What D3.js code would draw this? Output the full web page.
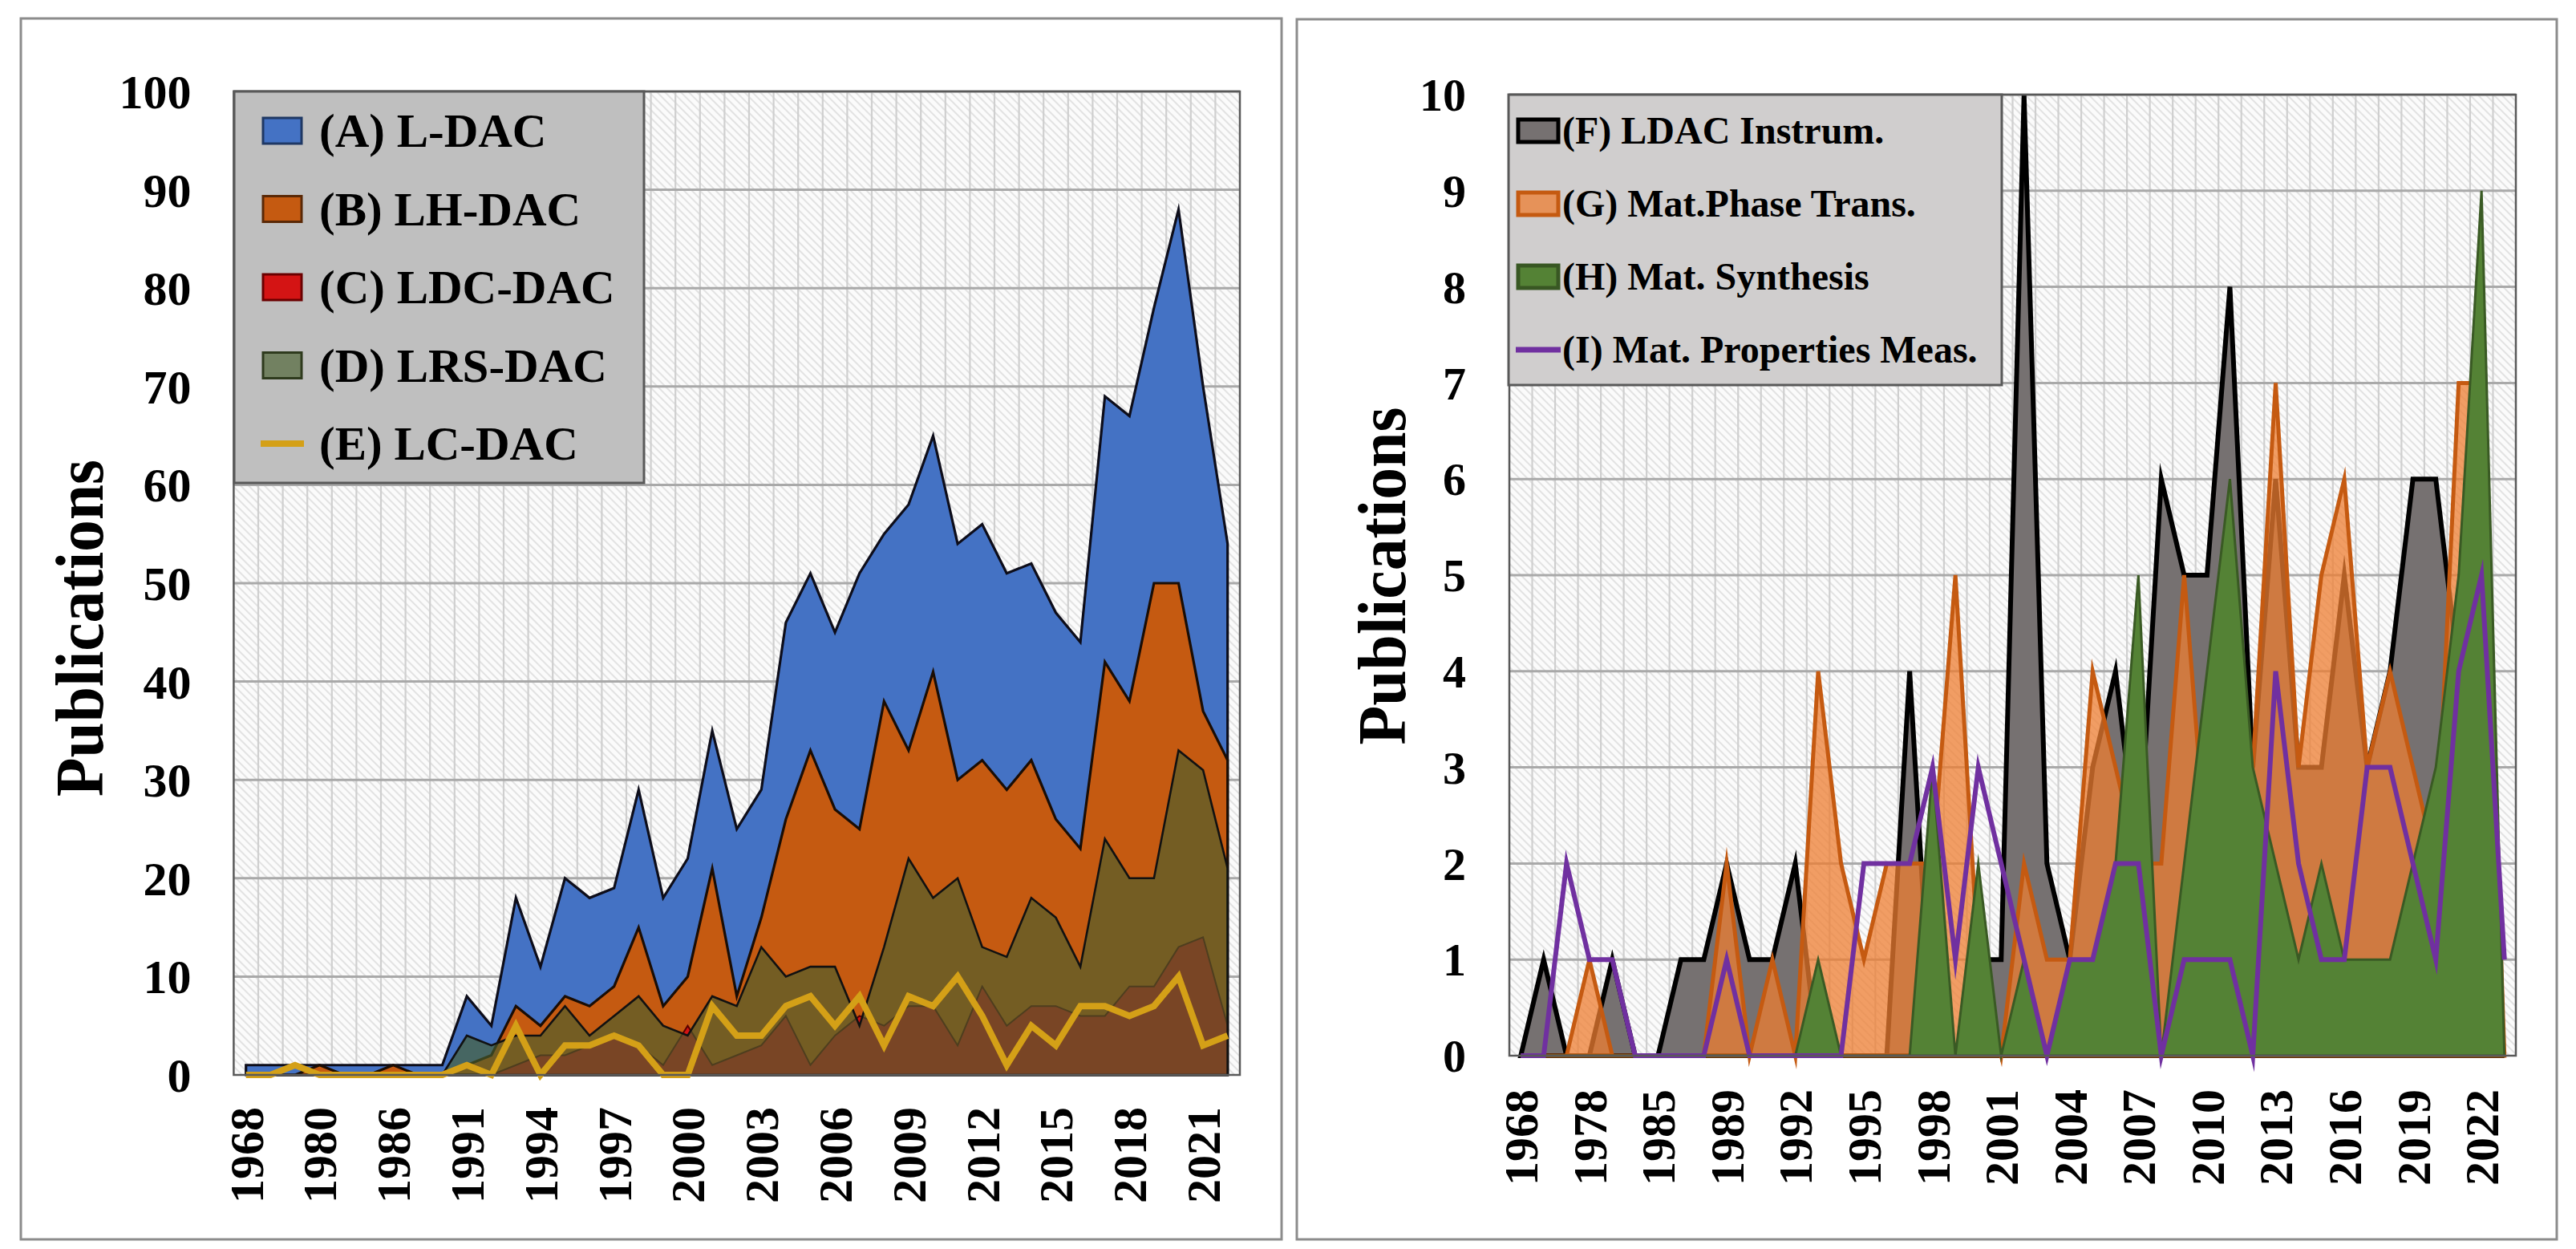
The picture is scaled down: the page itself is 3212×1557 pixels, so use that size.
<!DOCTYPE html>
<html><head><meta charset="utf-8">
<script src="https://cdn.jsdelivr.net/npm/d3@7"></script>
<style>
body{margin:0;background:#fff}
svg{display:block}
text{font-family:"Liberation Serif","Times New Roman",serif;font-weight:bold;fill:#000}
</style>
</head><body>
<svg id="c" width="3212" height="1557"></svg>
<script>
// ---------- LEFT PANEL DATA ----------
const leftYears = ["1968","1972","1976","1980","1982","1984","1986","1988","1990","1991","1992","1993","1994","1995","1996","1997","1998","1999","2000","2001","2002","2003","2004","2005","2006","2007","2008","2009","2010","2011","2012","2013","2014","2015","2016","2017","2018","2019","2020","2021","2022"];
const leftLabels = ["1968","1980","1986","1991","1994","1997","2000","2003","2006","2009","2012","2015","2018","2021"];
const seriesA_LDAC  = [1,1,1,1,1,1,1,1,1, 8,5,18,11,20,18,19,29,18,22,35,25, 29,46,51,45,51,55,58,65,54,56,51,52,47,44,69,67,78,88,70,54];
const seriesB_LHDAC = [0,0,0,1,0,0,1,0,0, 1,2,7,5,8,7,9,15,7,10,21,8, 16,26,33,27,25,38,33,41,30,32,29,32,26,23,42,38,50,50,37,32];
const seriesC_LDCDAC= [0,0,0,0,0,0,0,0,0, 0,0,1,2,2,3,4,3,1,5,1,2, 3,6,1,4,6,5,7,7,3,9,5,7,7,6,6,9,9,13,14,5];
const seriesD_LRSDAC= [0,0,0,0,0,0,0,0,0, 4,3,4,4,7,4,6,8,5,4,8,7, 13,10,11,11,5,13,22,18,20,13,12,18,16,11,24,20,20,33,31,21];
const seriesE_LCDAC = [0,0,1,0,0,0,0,0,0, 1,0,5,0,3,3,4,3,0,0,7,4, 4,7,8,5,8,3,8,7,10,6,1,5,3,7,7,6,7,10,3,4];
const leftYTicks = [0,10,20,30,40,50,60,70,80,90,100];
const leftNames = ["(A) L-DAC","(B) LH-DAC","(C) LDC-DAC","(D) LRS-DAC","(E) LC-DAC"];

// ---------- RIGHT PANEL DATA ----------
const rightYears = ["1968","1972","1975","1978","1980","1982","1985","1986","1987","1989","1990","1991","1992","1993","1994","1995","1996","1997","1998","1999","2000","2001","2002","2003","2004","2005","2006","2007","2008","2009","2010","2011","2012","2013","2014","2015","2016","2017","2018","2019","2020","2021","2022","2023"];
const rightLabels = ["1968","1978","1985","1989","1992","1995","1998","2001","2004","2007","2010","2013","2016","2019","2022"];
const seriesF_Instrum = [0,1,0,0,1,0,0,1,1,2, 1,1,2,0,0,0,0,4,0,0, 1,1,10,2,1,3,4,2,6,5, 5,8,3,6,3,3,5,3,4,6, 6,4,0,0];
const seriesG_PhaseTr = [0,0,0,1,0,0,0,0,0,2, 0,1,0,4,2,1,2,2,2,5, 1,0,2,1,1,4,3,2,2,5, 2,1,3,7,3,5,6,3,4,3, 2,7,7,0];
const seriesH_Synth   = [0,0,0,0,0,0,0,0,0,0, 0,0,0,1,0,0,0,0,3,0, 2,0,1,0,1,1,2,5,0,2, 4,6,3,2,1,2,1,1,1,2, 3,5,9,0];
const seriesI_PropMeas= [0,0,2,1,1,0,0,0,0,1, 0,0,0,0,0,2,2,2,3,1, 3,2,1,0,1,1,2,2,0,1, 1,1,0,4,2,1,1,3,3,2, 1,4,5,1];
const rightYTicks = [0,1,2,3,4,5,6,7,8,9,10];
const rightNames = ["(F) LDAC Instrum.","(G) Mat.Phase Trans.","(H) Mat. Synthesis","(I) Mat. Properties Meas."];

const svg = d3.select("#c");
const defs = svg.append("defs");
const pat = defs.append("pattern").attr("id","hatch").attr("patternUnits","userSpaceOnUse")
  .attr("width",7).attr("height",7).attr("patternTransform","rotate(-45)");
pat.append("rect").attr("width",7).attr("height",7).attr("fill","#fbfbfb");
pat.append("line").attr("x1",1).attr("y1",0).attr("x2",1).attr("y2",7).attr("stroke","#dcdcdc").attr("stroke-width",1.6);

function panel(cfg){
  const g = svg.append("g");
  g.append("rect").attr("x",cfg.box[0]).attr("y",cfg.box[1]).attr("width",cfg.box[2]-cfg.box[0]).attr("height",cfg.box[3]-cfg.box[1])
    .attr("fill","#fff").attr("stroke","#8c8c8c").attr("stroke-width",3);
  const xb = d3.scaleBand().domain(cfg.cats).range([cfg.x0,cfg.x1]);
  const xp = d3.scalePoint().domain(cfg.cats).range([cfg.x0,cfg.x1]).padding(0.5);
  const y = d3.scaleLinear().domain([0,cfg.yMax]).range([cfg.yB,cfg.yT]);
  g.append("rect").attr("x",cfg.x0).attr("y",cfg.yT).attr("width",cfg.x1-cfg.x0).attr("height",cfg.yB-cfg.yT).attr("fill","url(#hatch)");
  g.append("g").selectAll("line").data(cfg.cats.slice(1)).join("line")
    .attr("x1",d=>xb(d)).attr("x2",d=>xb(d)).attr("y1",cfg.yT).attr("y2",cfg.yB)
    .attr("stroke","#cfcfcf").attr("stroke-width",2.2);
  g.append("g").selectAll("line").data(cfg.yTicks.slice(1)).join("line")
    .attr("x1",cfg.x0).attr("x2",cfg.x1).attr("y1",d=>y(d)).attr("y2",d=>y(d))
    .attr("stroke","#a9a9a9").attr("stroke-width",3);
  const area = d3.area().x((d,i)=>xp(cfg.cats[i])).y0(y(0)).y1(d=>y(d));
  const line = d3.line().x((d,i)=>xp(cfg.cats[i])).y(d=>y(d));
  cfg.series.forEach(s=>{
    if(s.type==="area"){
      g.append("path").attr("d",area(s.values)+"Z").attr("fill",s.fill).attr("fill-opacity",s.opacity||1)
        .attr("stroke",s.stroke).attr("stroke-width",s.sw).attr("stroke-linejoin","miter").attr("stroke-miterlimit",10);
    } else {
      g.append("path").attr("d",line(s.values)).attr("fill","none").attr("stroke",s.stroke)
        .attr("stroke-width",s.sw).attr("stroke-linejoin","miter").attr("stroke-miterlimit",10);
    }
  });
  g.append("rect").attr("x",cfg.x0).attr("y",cfg.yT).attr("width",cfg.x1-cfg.x0).attr("height",cfg.yB-cfg.yT)
    .attr("fill","none").attr("stroke","#595959").attr("stroke-width",2.5);
  const ya = g.append("g").attr("transform",`translate(${cfg.x0},0)`)
    .call(d3.axisLeft(y).tickValues(cfg.yTicks).tickSize(0).tickPadding(cfg.yPad).tickFormat(d3.format("d")));
  ya.select(".domain").remove();
  ya.selectAll("text").attr("font-size",cfg.yFont).attr("font-family","Liberation Serif").attr("font-weight","bold").attr("dy","0.34em");
  const xa = g.append("g").attr("transform",`translate(0,${cfg.yB})`)
    .call(d3.axisBottom(xp).tickValues(cfg.labels).tickSize(0));
  xa.select(".domain").remove();
  xa.selectAll("text").attr("font-size",cfg.xFont).attr("font-family","Liberation Serif").attr("font-weight","bold")
    .attr("transform","rotate(-90)").attr("text-anchor","end").attr("x",-cfg.xGap).attr("y",0).attr("dy","0.34em");
  g.append("text").attr("transform",`translate(${cfg.titleX},${cfg.titleY}) rotate(-90)`)
    .attr("text-anchor","middle").attr("font-size",cfg.titleFont)
    .attr("textLength",cfg.titleLen).attr("lengthAdjust","spacingAndGlyphs").text("Publications");
  const L = cfg.legend;
  g.append("rect").attr("x",L.x0).attr("y",L.y0).attr("width",L.x1-L.x0).attr("height",L.y1-L.y0)
    .attr("fill",L.bg).attr("stroke","#595959").attr("stroke-width",3);
  L.items.forEach((it,k)=>{
    const cy = L.firstY + k*L.step;
    if(it.type==="area"){
      g.append("rect").attr("x",L.sx).attr("y",cy-L.sh/2).attr("width",L.sw).attr("height",L.sh)
        .attr("fill",it.fill).attr("fill-opacity",it.opacity||1).attr("stroke",it.lstroke).attr("stroke-width",it.lsw);
    } else {
      g.append("line").attr("x1",L.sx-3).attr("x2",L.sx+L.sw+3).attr("y1",cy).attr("y2",cy)
        .attr("stroke",it.stroke).attr("stroke-width",it.lsw);
    }
    g.append("text").attr("x",L.tx).attr("y",cy).attr("dy","0.34em").attr("font-size",L.font).text(it.name);
  });
}

const leftSeries = [
  {type:"area",values:seriesA_LDAC,fill:"#4472c4",stroke:"#0d0d1a",sw:3.2,lstroke:"#1f3864",lsw:3},
  {type:"area",values:seriesB_LHDAC,fill:"#c55a11",stroke:"#1a0d05",sw:3.2,lstroke:"#5a2806",lsw:3},
  {type:"area",values:seriesC_LDCDAC,fill:"#d41414",stroke:"#5a0000",sw:2,lstroke:"#6b0000",lsw:3},
  {type:"area",values:seriesD_LRSDAC,fill:"#485f2e",opacity:0.65,stroke:"#111",sw:2.6,lstroke:"#2e3a1d",lsw:3},
  {type:"line",values:seriesE_LCDAC,stroke:"#d4a017",sw:8,lsw:8}
];
leftSeries.forEach((s,i)=>s.name=leftNames[i]);
panel({
  box:[26,23,1598,1545], cats:leftYears, labels:leftLabels,
  x0:291.4, x1:1546, yB:1340, yT:114, yMax:100, yTicks:leftYTicks, yPad:53, yFont:60, xFont:60, xGap:40,
  titleX:128, titleY:783, titleFont:84, titleLen:420,
  series:leftSeries,
  legend:{x0:292,y0:114,x1:803,y1:602,bg:"#bfbfbf",firstY:163,step:97.5,sx:328,sw:48,sh:32,tx:398,font:59,items:leftSeries}
});

const rightSeries = [
  {type:"area",values:seriesF_Instrum,fill:"#767171",stroke:"#000",sw:6,lstroke:"#000",lsw:5},
  {type:"area",values:seriesG_PhaseTr,fill:"#ed7d31",opacity:0.75,stroke:"#c55a11",sw:5,lstroke:"#c55a11",lsw:5},
  {type:"area",values:seriesH_Synth,fill:"#548235",stroke:"#3a5a24",sw:3,lstroke:"#385723",lsw:5},
  {type:"line",values:seriesI_PropMeas,stroke:"#7030a0",sw:6,lsw:7}
];
rightSeries.forEach((s,i)=>s.name=rightNames[i]);
panel({
  box:[1617,24,3188,1545], cats:rightYears, labels:rightLabels,
  x0:1882, x1:3137, yB:1316, yT:118, yMax:10, yTicks:rightYTicks, yPad:54, yFont:58, xFont:60, xGap:42,
  titleX:1752, titleY:718, titleFont:84, titleLen:421,
  series:rightSeries,
  legend:{x0:1881,y0:118,x1:2496,y1:480,bg:"#d0cece",firstY:163,step:91,sx:1893,sw:50,sh:28,tx:1948,font:48,items:rightSeries}
});
</script>
</body></html>
